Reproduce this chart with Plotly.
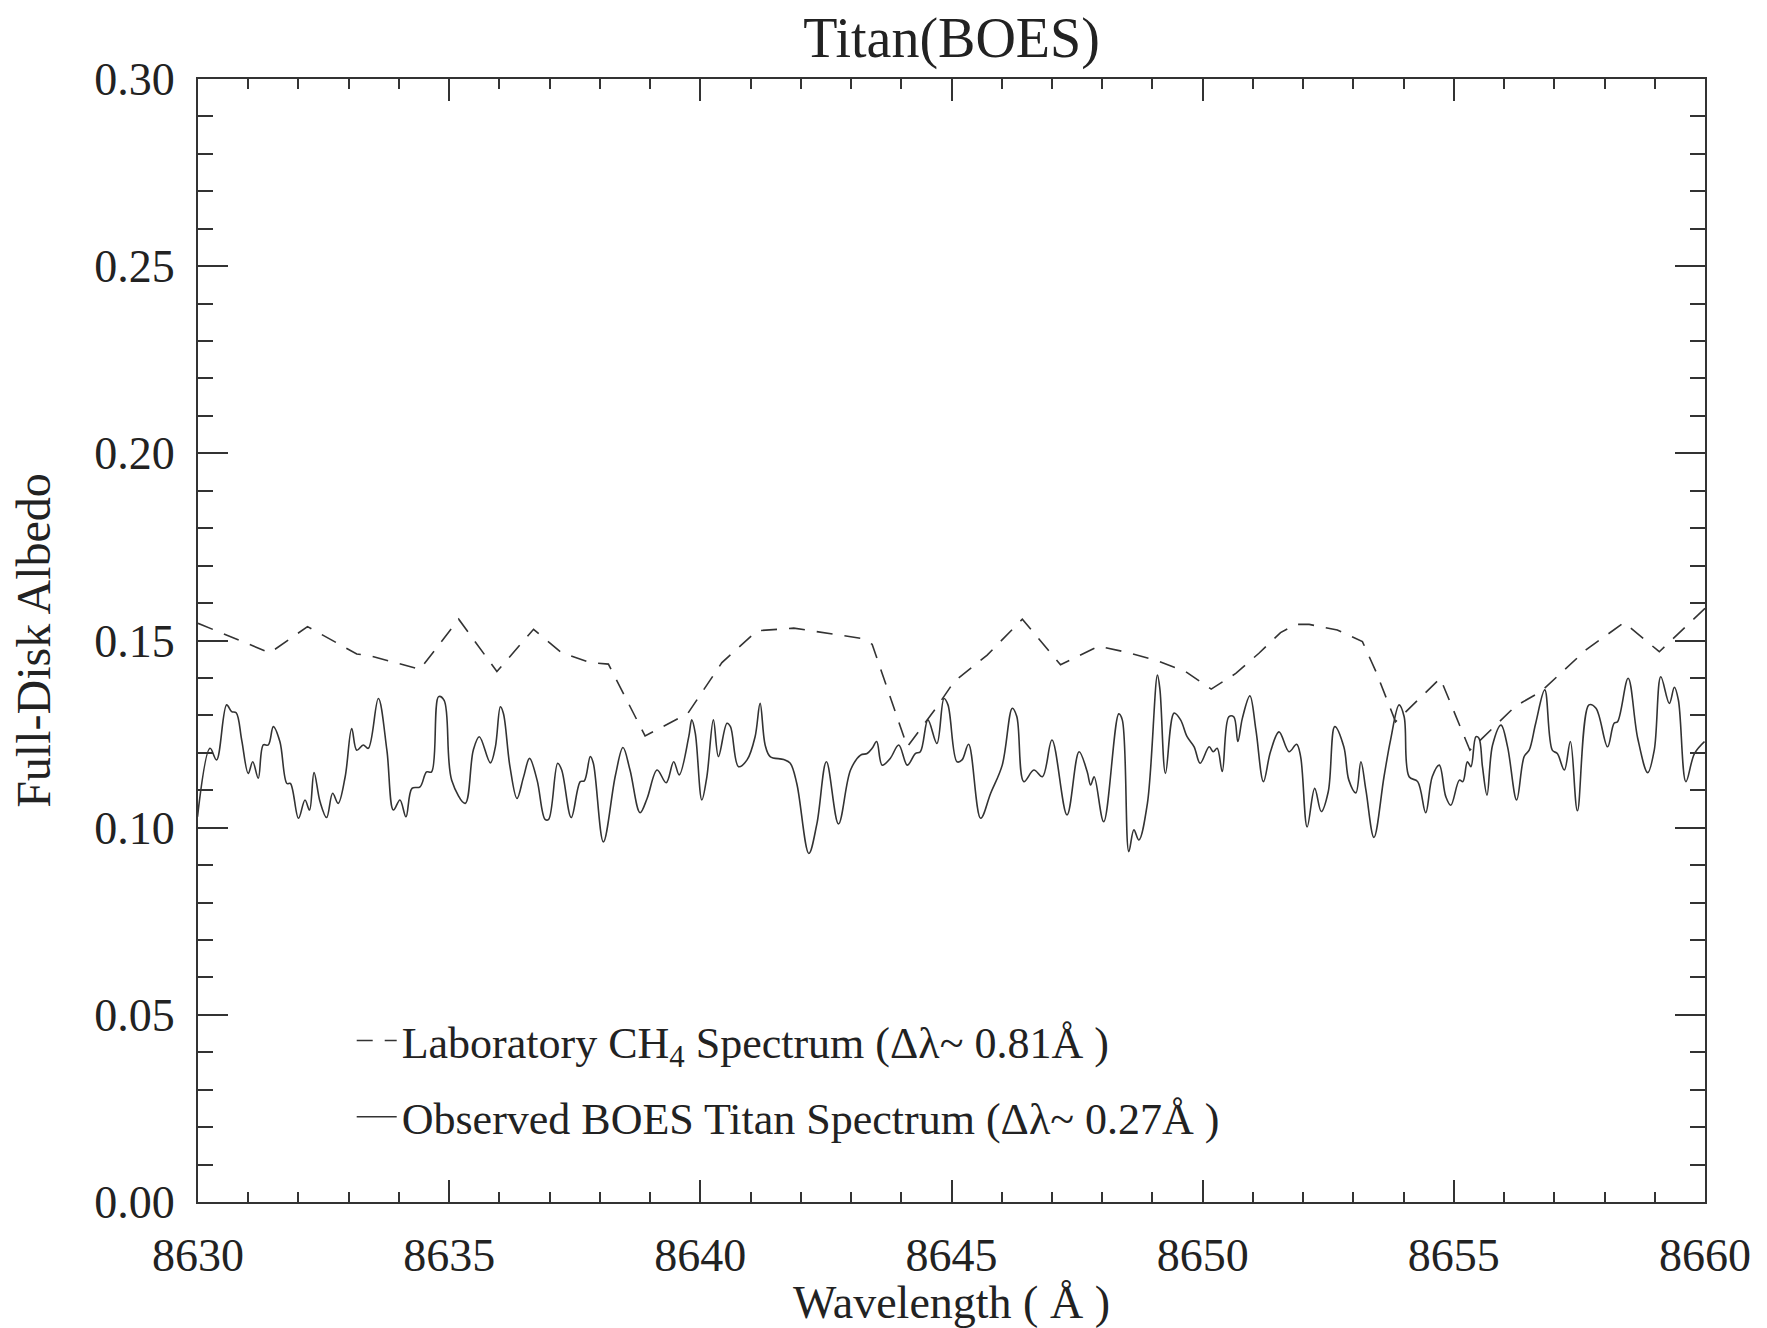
import plotly.graph_objects as go

# ---------------- data ----------------
lab_wavelength = [8630.00, 8631.43, 8632.18, 8633.16, 8633.43, 8634.42, 8635.19, 8635.95,
                  8636.68, 8637.24, 8637.81, 8638.17, 8638.90, 8639.75, 8640.43, 8641.13,
                  8641.86, 8642.59, 8643.19, 8643.42, 8644.12, 8644.71, 8645.05, 8645.71,
                  8646.41, 8647.17, 8647.93, 8648.50, 8649.10, 8649.66, 8650.17, 8650.66,
                  8651.12, 8651.55, 8651.85, 8652.12, 8652.68, 8653.18, 8653.45, 8653.84,
                  8654.73, 8655.32, 8656.23, 8656.73, 8657.63, 8658.39, 8659.09, 8660.00]
lab_albedo = [0.1546, 0.1467, 0.1537, 0.1464, 0.1459, 0.1423, 0.1557, 0.1417,
              0.1530, 0.1467, 0.1441, 0.1437, 0.1245, 0.1305, 0.1441, 0.1526,
              0.1533, 0.1519, 0.1506, 0.1490, 0.1216, 0.1323, 0.1390, 0.1461,
              0.1557, 0.1435, 0.1485, 0.1468, 0.1446, 0.1417, 0.1370, 0.1412,
              0.1466, 0.1521, 0.1543, 0.1543, 0.1528, 0.1497, 0.1417, 0.1283,
              0.1399, 0.1207, 0.1325, 0.1363, 0.1475, 0.1548, 0.1470, 0.1586]

obs_wavelength = [
    8629.99, 8630.24, 8630.37, 8630.57, 8630.67, 8630.76, 8630.87, 8631.00, 8631.09, 8631.20,
    8631.30, 8631.40, 8631.50, 8631.63, 8631.77, 8631.84, 8632.00, 8632.13, 8632.22, 8632.31,
    8632.43, 8632.56, 8632.68, 8632.79, 8632.93, 8633.06, 8633.16, 8633.29, 8633.39, 8633.59,
    8633.76, 8633.89, 8634.02, 8634.14, 8634.26, 8634.42, 8634.55, 8634.65, 8634.79, 8634.90,
    8635.05, 8635.32, 8635.48, 8635.60, 8635.82, 8635.92, 8636.02, 8636.08, 8636.21, 8636.35,
    8636.48, 8636.60, 8636.75, 8636.91, 8636.98, 8637.16, 8637.24, 8637.43, 8637.61, 8637.69,
    8637.81, 8637.87, 8638.07, 8638.31, 8638.46, 8638.60, 8638.80, 8638.94, 8639.14, 8639.32,
    8639.47, 8639.58, 8639.77, 8639.83, 8639.90, 8640.03, 8640.13, 8640.26, 8640.36, 8640.53,
    8640.60, 8640.76, 8640.93, 8641.09, 8641.19, 8641.29, 8641.39, 8641.66, 8641.79, 8641.92,
    8642.16, 8642.32, 8642.51, 8642.75, 8642.99, 8643.19, 8643.32, 8643.42, 8643.51, 8643.62,
    8643.78, 8643.95, 8644.12, 8644.28, 8644.38, 8644.53, 8644.71, 8644.85, 8644.93, 8645.11,
    8645.21, 8645.34, 8645.58, 8645.78, 8646.01, 8646.21, 8646.30, 8646.44, 8646.64, 8646.81,
    8647.00, 8647.30, 8647.54, 8647.70, 8647.77, 8647.84, 8648.03, 8648.33, 8648.40, 8648.53,
    8648.63, 8648.73, 8648.90, 8649.10, 8649.15, 8649.26, 8649.43, 8649.56, 8649.69, 8649.83,
    8649.95, 8650.13, 8650.21, 8650.29, 8650.39, 8650.52, 8650.62, 8650.70, 8650.79, 8650.94,
    8651.06, 8651.21, 8651.35, 8651.52, 8651.72, 8651.87, 8651.95, 8652.08, 8652.23, 8652.36,
    8652.50, 8652.63, 8652.81, 8652.91, 8653.05, 8653.15, 8653.25, 8653.41, 8653.61, 8653.74,
    8653.91, 8654.01, 8654.11, 8654.28, 8654.44, 8654.57, 8654.71, 8654.84, 8654.94, 8655.11,
    8655.18, 8655.27, 8655.34, 8655.44, 8655.50, 8655.57, 8655.66, 8655.77, 8655.94, 8656.07,
    8656.25, 8656.40, 8656.50, 8656.63, 8656.81, 8656.96, 8657.06, 8657.20, 8657.32, 8657.46,
    8657.69, 8657.83, 8658.06, 8658.19, 8658.26, 8658.47, 8658.66, 8658.86, 8658.99, 8659.12,
    8659.29, 8659.39, 8659.47, 8659.62, 8659.79, 8659.99]
obs_albedo = [
    0.1029, 0.1212, 0.1181, 0.1328, 0.1310, 0.1307, 0.1234, 0.1145, 0.1176, 0.1132,
    0.1221, 0.1221, 0.1270, 0.1230, 0.1118, 0.1118, 0.1025, 0.1074, 0.1047, 0.1147,
    0.1069, 0.1027, 0.1092, 0.1065, 0.1136, 0.1265, 0.1207, 0.1221, 0.1212, 0.1345,
    0.1207, 0.1047, 0.1074, 0.1029, 0.1105, 0.1109, 0.1149, 0.1149, 0.1350, 0.1340,
    0.1127, 0.1065, 0.1207, 0.1243, 0.1173, 0.1216, 0.1323, 0.1305, 0.1163, 0.1078,
    0.1135, 0.1185, 0.1127, 0.1022, 0.1022, 0.1172, 0.1154, 0.1027, 0.1123, 0.1125,
    0.1190, 0.1172, 0.0962, 0.1140, 0.1214, 0.1154, 0.1040, 0.1078, 0.1154, 0.1120,
    0.1176, 0.1141, 0.1243, 0.1288, 0.1252, 0.1074, 0.1136, 0.1288, 0.1190, 0.1279,
    0.1270, 0.1163, 0.1181, 0.1243, 0.1332, 0.1221, 0.1190, 0.1182, 0.1172, 0.1118,
    0.0931, 0.1010, 0.1176, 0.1010, 0.1154, 0.1194, 0.1198, 0.1212, 0.1230, 0.1167,
    0.1185, 0.1221, 0.1167, 0.1198, 0.1203, 0.1288, 0.1225, 0.1345, 0.1328, 0.1176,
    0.1181, 0.1223, 0.1025, 0.1092, 0.1167, 0.1319, 0.1297, 0.1123, 0.1154, 0.1136,
    0.1234, 0.1034, 0.1203, 0.1150, 0.1114, 0.1136, 0.1016, 0.1304, 0.1288, 0.0936,
    0.0994, 0.0967, 0.1065, 0.1408, 0.1368, 0.1145, 0.1306, 0.1288, 0.1243, 0.1216,
    0.1172, 0.1216, 0.1203, 0.1212, 0.1150, 0.1296, 0.1296, 0.1230, 0.1292, 0.1352,
    0.1261, 0.1123, 0.1203, 0.1256, 0.1203, 0.1223, 0.1190, 0.1002, 0.1105, 0.1043,
    0.1096, 0.1270, 0.1216, 0.1127, 0.1093, 0.1176, 0.1100, 0.0974, 0.1136, 0.1234,
    0.1328, 0.1297, 0.1136, 0.1123, 0.1040, 0.1136, 0.1167, 0.1083, 0.1060, 0.1127,
    0.1123, 0.1176, 0.1163, 0.1243, 0.1239, 0.1163, 0.1087, 0.1220, 0.1274, 0.1216,
    0.1074, 0.1190, 0.1207, 0.1279, 0.1368, 0.1207, 0.1198, 0.1154, 0.1230, 0.1045,
    0.1328, 0.1319, 0.1216, 0.1279, 0.1283, 0.1399, 0.1239, 0.1147, 0.1207, 0.1403,
    0.1332, 0.1375, 0.1341, 0.1123, 0.1198, 0.1230]

x_tick_values = [8630, 8635, 8640, 8645, 8650, 8655, 8660]
x_tick_labels = ["8630", "8635", "8640", "8645", "8650", "8655", "8660"]
y_tick_values = [0.00, 0.05, 0.10, 0.15, 0.20, 0.25, 0.30]
y_tick_labels = ["0.00", "0.05", "0.10", "0.15", "0.20", "0.25", "0.30"]

title_text = "Titan(BOES)"
x_title = "Wavelength ( Å )"
y_title = "Full-Disk Albedo"
lab_name = "Laboratory CH<sub>4</sub> Spectrum (Δλ~ 0.81Å )"
obs_name = "Observed BOES Titan Spectrum (Δλ~ 0.27Å )"

# ---------------- figure ----------------
FONT = "Liberation Serif"
INK = "#222222"

fig = go.Figure()
fig.add_trace(go.Scatter(
    x=lab_wavelength, y=lab_albedo, mode="lines", name=lab_name, legendgroup="lab",
    line=dict(color="#333333", width=1.6, dash="16px,12px")))
fig.add_trace(go.Scatter(
    x=obs_wavelength, y=obs_albedo, mode="lines", name=obs_name, legendgroup="obs",
    line=dict(color="#333333", width=1.6, shape="spline", smoothing=1.0)))

W, H = 1767, 1328
L, R, T, B = 198, 62, 79, 126

fig.update_layout(
    width=W, height=H,
    margin=dict(l=L, r=R, t=T, b=B, pad=0),
    paper_bgcolor="white", plot_bgcolor="white",
    font=dict(family=FONT, color=INK, size=44),
    title=dict(text=title_text, x=0.5, xanchor="center", xref="paper",
               y=1 - 37 / H, yanchor="middle", yref="container",
               font=dict(family=FONT, size=56, color=INK)),
    showlegend=True,
    legend=dict(x=0.102, xanchor="left", y=0.175, yanchor="top",
                bgcolor="rgba(0,0,0,0)", borderwidth=0,
                font=dict(family=FONT, size=44, color=INK),
                tracegroupgap=16, itemwidth=40),
)

fig.update_xaxes(
    range=[8630, 8660], tickmode="array", tickvals=x_tick_values, ticktext=x_tick_labels,
    ticks="inside", ticklen=22, tickwidth=1.5, tickcolor="#333333",
    minor=dict(dtick=1, ticks="inside", ticklen=10, tickwidth=1.5, tickcolor="#333333"),
    showline=True, linecolor="#333333", linewidth=2, mirror="allticks",
    showgrid=False, zeroline=False,
    tickfont=dict(family=FONT, size=46, color=INK), ticklabelstandoff=12,
    title=dict(text=x_title, font=dict(family=FONT, size=46, color=INK), standoff=4),
)
fig.update_yaxes(
    range=[0, 0.30], tickmode="array", tickvals=y_tick_values, ticktext=y_tick_labels,
    ticks="inside", ticklen=30, tickwidth=1.5, tickcolor="#333333",
    minor=dict(dtick=0.01, ticks="inside", ticklen=15, tickwidth=1.5, tickcolor="#333333"),
    showline=True, linecolor="#333333", linewidth=2, mirror="allticks",
    showgrid=False, zeroline=False,
    tickfont=dict(family=FONT, size=46, color=INK), ticklabelstandoff=12,
    title=dict(text=y_title, font=dict(family=FONT, size=48, color=INK), standoff=28),
)

fig.write_html("out.html")
